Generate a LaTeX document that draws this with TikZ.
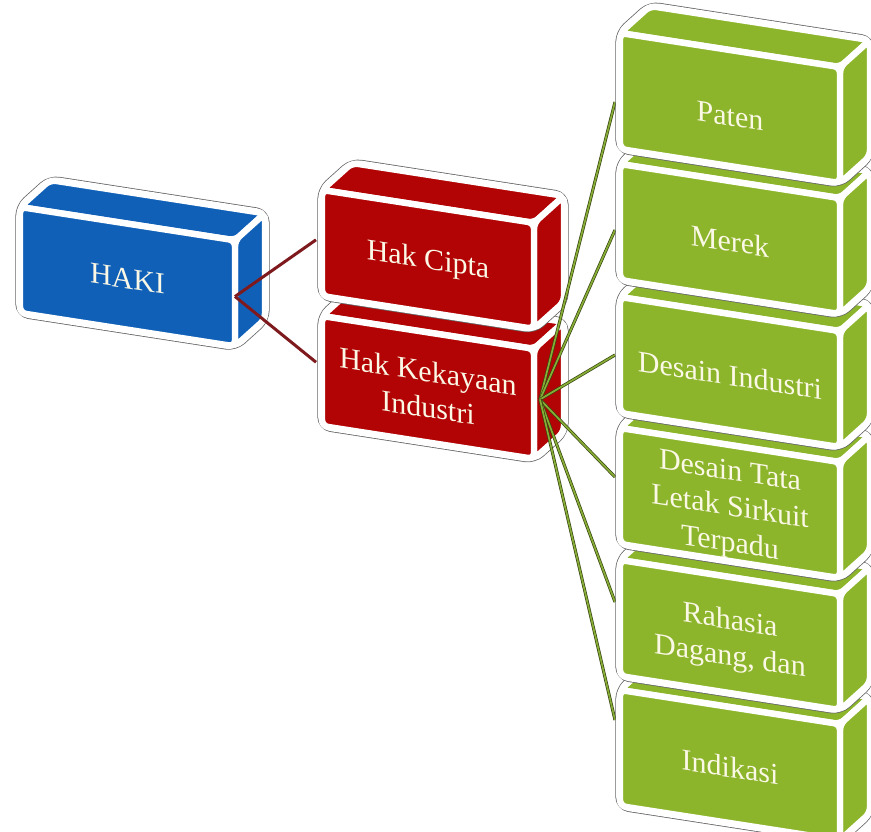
\documentclass[tikz,border=0pt]{standalone}
\usepackage{fontspec}
\setmainfont{Liberation Serif}
\usetikzlibrary{calc}
\definecolor{hblue}{HTML}{1060B8}
\definecolor{hred}{HTML}{B20404}
\definecolor{hgreen}{HTML}{8CB52C}
\definecolor{lred}{HTML}{7E1A1E}
\definecolor{lgreen}{HTML}{86AE36}
\definecolor{lgreendark}{HTML}{3A4410}
\definecolor{ltext}{HTML}{FBF8E6}
\tikzset{
  boxtext/.style={text=ltext, align=center, font=\fontsize{30}{36}\selectfont, inner sep=0pt},
  silhouetteedge/.style={line width=9.2pt, draw=black!60, rounded corners=9pt, line join=round},
  silhouettefill/.style={line width=7.6pt, draw=white, fill=white, rounded corners=9pt, line join=round},
  boxface/.style={fill=#1, draw=white, line width=6.4pt, rounded corners=6pt, line join=round},
  redline/.style={draw=lred, line width=3pt},
  greenline/.style={draw=lgreendark, line width=0.7pt, double=lgreen, double distance=1.7pt},
}
\newcommand\cubebox[8]{%
  \coordinate (#1-A) at (#2,#3);
  \coordinate (#1-B) at ({#2+#4},{#3+0.155*#4});
  \coordinate (#1-C) at ({#2+#4},{#3+0.155*#4+#5});
  \coordinate (#1-D) at (#2,{#3+#5});
  \coordinate (#1-A2) at ($(#1-A)+(30,-27)$);
  \coordinate (#1-B2) at ($(#1-B)+(30,-27)$);
  \coordinate (#1-C2) at ($(#1-C)+(30,-27)$);
  \draw[silhouetteedge] (#1-A) -- (#1-A2) -- (#1-B2) -- (#1-C2) -- (#1-C) -- (#1-D) -- cycle;
  \draw[silhouettefill] (#1-A) -- (#1-A2) -- (#1-B2) -- (#1-C2) -- (#1-C) -- (#1-D) -- cycle;
  \filldraw[boxface=#6] (#1-A) -- (#1-A2) -- (#1-B2) -- (#1-B) -- cycle;
  \filldraw[boxface=#6] (#1-B) -- (#1-B2) -- (#1-C2) -- (#1-C) -- cycle;
  \filldraw[boxface=#6] (#1-A) -- (#1-B) -- (#1-C) -- (#1-D) -- cycle;
  \node[boxtext, yslant=-0.155] (#1) at ($(#1-A)!0.5!(#1-C)+(0,#8)$) {#7};
}
\begin{document}
\begin{tikzpicture}[x=1pt, y=-1pt]
\useasboundingbox (0,0) rectangle (871,831);
\clip (0,0) rectangle (871,831);

% red boxes and blue box
\cubebox{hki}{322}{316}{212}{110}{hred}{Hak Kekayaan\\Industri}{2}
\cubebox{cipta}{322}{190}{212}{106}{hred}{Hak Cipta}{2}
\cubebox{haki}{20}{207}{215}{106}{hblue}{HAKI}{2}

% connector points
\coordinate (haki-out) at ($(haki-B)!0.53!(haki-C)$);
\coordinate (cipta-in) at ($(cipta-A)!0.47!(cipta-D)+(-6,0)$);
\coordinate (hki-in) at ($(hki-A)!0.42!(hki-D)+(-6,0)$);
\coordinate (hki-out) at ($(hki-B)!0.46!(hki-C)+(6,0)$);

\draw[redline] (haki-out) -- (cipta-in);
\draw[redline] (haki-out) -- (hki-in);

% connector targets on the left edges of the green boxes
\coordinate (pat-in) at (615,102);
\coordinate (mer-in) at (615,230);
\coordinate (di-in) at (615,355);
\coordinate (dtl-in) at (615,477);
\coordinate (rah-in) at (615,602);
\coordinate (ind-in) at (615,720);

\foreach \t in {pat-in,mer-in,di-in,dtl-in,rah-in,ind-in}{
  \draw[greenline] (hki-out) -- (\t);
}

% green boxes, lowest first
\cubebox{ind}{620}{690}{220}{116}{hgreen}{Indikasi}{2}
\cubebox{rah}{620}{560}{220}{116}{hgreen}{Rahasia\\Dagang, dan}{5}
\cubebox{dtl}{620}{428}{220}{116}{hgreen}{Desain Tata\\Letak Sirkuit\\Terpadu}{6}
\cubebox{di}{620}{297}{220}{116}{hgreen}{Desain Industri}{3}
\cubebox{mer}{620}{164}{220}{116}{hgreen}{Merek}{2}
\cubebox{pat}{620}{33}{220}{116}{hgreen}{Paten}{8}
\end{tikzpicture}
\end{document}
